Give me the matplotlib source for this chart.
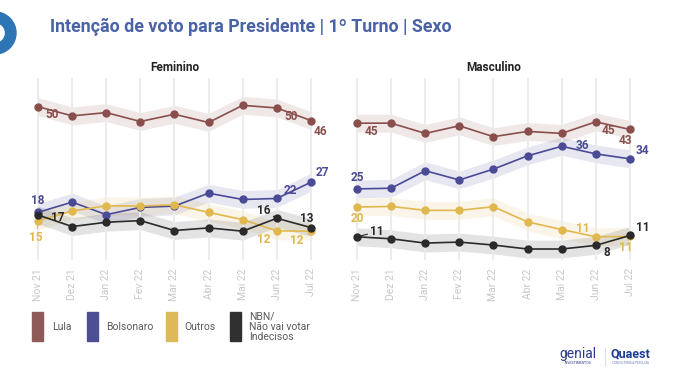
import matplotlib
matplotlib.use("Agg")
from matplotlib import pyplot as plt
from matplotlib.patches import Rectangle, Wedge
from matplotlib.lines import Line2D
from matplotlib.transforms import IdentityTransform

plt.rcParams['font.family'] = ['Roboto', 'DejaVu Sans']

months = ['Nov 21', 'Dez 21', 'Jan 22', 'Fev 22', 'Mar 22', 'Abr 22', 'Mai 22', 'Jun 22', 'Jul 22']
series_names = ['Lula', 'Bolsonaro', 'Outros', 'NBN/\nNão vai votar\nIndecisos']

fem_lula = [50.0, 47.2, 48.2, 45.5, 47.7, 45.2, 50.4, 49.6, 45.8]
fem_bolsonaro = [18.0, 21.1, 17.3, 19.5, 19.9, 23.8, 21.9, 22.2, 27.1]
fem_outros = [15.4, 18.4, 20.0, 19.9, 20.3, 18.0, 15.8, 12.4, 12.3]
fem_nbn = [17.2, 13.7, 15.0, 15.5, 12.5, 13.3, 12.3, 16.2, 13.4]

masc_lula = [45.0, 45.0, 41.9, 44.2, 40.9, 42.5, 41.9, 45.4, 43.1]
masc_bolsonaro = [25.1, 25.3, 30.6, 27.8, 31.1, 35.1, 38.0, 35.7, 34.2]
masc_outros = [19.6, 19.8, 18.6, 18.6, 19.7, 15.1, 12.8, 10.6, 10.7]
masc_nbn = [10.6, 10.0, 8.7, 9.0, 8.1, 6.9, 6.9, 8.0, 11.0]

# which points get a value label
label_idx = [0, 7, 8]

colors = ['#8a4f4c', '#4a4a96', '#e0b84e', '#2a2a2a']
swatch_colors = ['#8e5a58', '#4d4f94', '#ddb95a', '#303030']

# label offsets in pixels (dx, dy up) and whether a leader line is drawn
fem_offsets = [
    [(14, -8, False), (14, -9, False), (10, -11, False)],
    [(0, 12, True), (14, 8, False), (11, 10, True)],
    [(-2, -17, True), (-13, -9, False), (-14, -9, False)],
    [(20, -3, False), (-13, 8, True), (-4, 9, False)],
]
masc_offsets = [
    [(14, -8, False), (13, -9, False), (-4, -11, False)],
    [(0, 11, False), (-13, 8, False), (13, 8, False)],
    [(0, -11, False), (-13, 8, False), (-4, -11, False)],
    [(20, 5, True), (11, -7, False), (13, 8, True)],
]

W, H = 679, 380
fig = plt.figure(figsize=(W / 100, H / 100), dpi=100)
fig.patch.set_facecolor('white')


def fx(x):
    return x / W


def fy(y):
    return 1 - y / H


def draw_panel(ax, title, data, offsets):
    x = list(range(len(months)))
    for vals, color, offs in zip(data, colors, offsets):
        lo = [v - 2.7 for v in vals]
        hi = [v + 2.7 for v in vals]
        ax.fill_between(x, lo, hi, color=color, alpha=0.13, lw=0, zorder=1)
        ax.plot(x, vals, color=color, lw=1.2, marker='o', ms=5, zorder=3)
        for i, (dx, dy, leader) in zip(label_idx, offs):
            kw = {}
            if leader:
                kw['arrowprops'] = dict(arrowstyle='-', color=color, lw=0.8, shrinkA=0, shrinkB=3)
            ax.annotate(str(round(vals[i])), (i, vals[i]), xytext=(dx * 0.72, dy * 0.72),
                        textcoords='offset points', ha='center', va='center',
                        fontsize=8.5, fontweight='bold', color=color, zorder=4, **kw)
    ax.set_xlim(-0.3, 8.3)
    ax.set_ylim(3.6, 58.7)
    ax.set_xticks(x)
    ax.set_xticklabels(months, rotation=90, color='#c8c8c8', fontsize=7.5)
    ax.set_yticks([])
    ax.tick_params(axis='x', length=0, pad=6)
    ax.grid(axis='x', color='#ebebeb', lw=1.3, zorder=0)
    for s in ax.spines.values():
        s.set_visible(False)
    ax.set_title(title, fontsize=8.5, fontweight='bold', color='#222222', pad=5)


ax1 = fig.add_axes([fx(27.8), 0.316, 0.432, 0.479])
draw_panel(ax1, 'Feminino', [fem_lula, fem_bolsonaro, fem_outros, fem_nbn], fem_offsets)
ax2 = fig.add_axes([fx(346.8), 0.316, 0.432, 0.479])
draw_panel(ax2, 'Masculino', [masc_lula, masc_bolsonaro, masc_outros, masc_nbn], masc_offsets)

# title and corner ring
fig.text(fx(50), fy(27), 'Intenção de voto para Presidente | 1º Turno | Sexo',
         fontweight='bold', fontsize=12.8, color='#4a62a6', va='center', ha='left')
fig.patches.append(Wedge((-5, H - 33), 21, 0, 360, width=10.5, color='#2e75b6',
                         transform=IdentityTransform(), figure=fig))

# legend
swatch_x = [32, 87, 166, 230]
text_x = [52, 106, 184, 249]
for sx, tx, name, c in zip(swatch_x, text_x, series_names, swatch_colors):
    fig.patches.append(Rectangle((fx(sx), fy(341)), fx(11), 29 / H, color=c,
                                 transform=fig.transFigure, figure=fig))
    fig.text(fx(tx), fy(327), name, fontsize=7.5, color='#5a5a5a', va='center', ha='left',
             linespacing=1.05)

# logos
fig.text(fx(578), fy(354), 'genial', fontsize=10, color='#2a3a8a', ha='center', va='center')
fig.text(fx(578), fy(363), 'INVESTIMENTOS', fontsize=2.5, color='#2a3a8a', ha='center', va='center')
fig.lines.append(Line2D([fx(605), fx(605)], [fy(348), fy(366)], color='#d0d8e8', lw=0.6,
                        transform=fig.transFigure, figure=fig))
fig.text(fx(630), fy(354), 'Quaest', fontsize=9, fontweight='bold', color='#1f3c96',
         ha='center', va='center')
fig.text(fx(630), fy(363), 'CONSULTORIA & PESQUISA', fontsize=2.2, color='#6a7db8',
         ha='center', va='center')

fig.savefig('out.png', dpi=100)
